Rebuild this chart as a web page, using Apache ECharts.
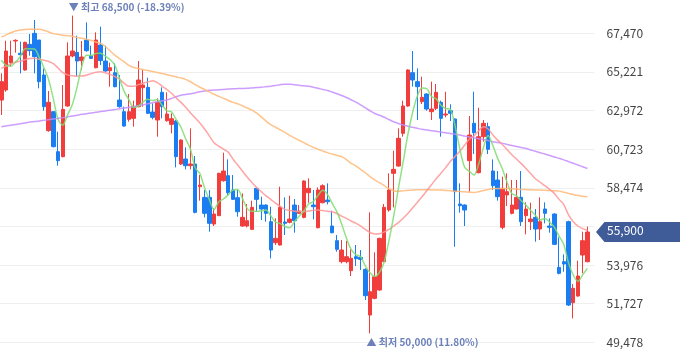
<!DOCTYPE html>
<html><head><meta charset="utf-8">
<script src="https://cdn.jsdelivr.net/npm/echarts@6/dist/echarts.min.js"></script>
<style>html,body{margin:0;padding:0;background:#fff}#c{width:680px;height:358px}</style>
</head><body><div id="c"></div>
<script>
// ---- data ----
const opens=[63585,64168,65759,67021,66303,65332,66827,67467,67079,65041,61800,62906,60577,60286,63236,66147,66361,65876,67079,66167,65468,66788,65856,65293,65177,63585,62906,62460,62518,63197,64303,64323,62886,62421,64032,62382,62168,62363,59859,60150,59762,59859,58539,57918,57918,56365,56850,58888,59179,58345,57898,56249,56249,56055,58442,57471,57471,56501,55278,55142,56482,56462,57471,56986,56753,58189,57471,56152,57607,57763,56249,55395,54172,54172,53647,54463,54424,53725,51066,52037,52522,54172,57180,59315,59742,61644,63236,65177,64653,63488,63935,62906,63100,63450,62712,62964,62479,57530,57471,60053,62227,59354,61450,62033,59451,58927,56171,58054,56986,57238,57918,56850,56501,56753,56074,57238,56249,56947,53841,54172,56501,51784,52173,54560,54172];
const closes=[64653,66439,66147,67060,66225,66943,66458,66109,64653,63197,63450,60868,60053,63042,66147,66439,65856,66089,66458,66012,67079,65876,65274,65468,64362,63197,62071,62906,63197,64750,64459,62809,62576,63450,63197,62770,62498,60286,61256,59762,59859,57044,58636,56986,56404,56947,59315,59451,58189,57801,57083,56753,56559,57335,57801,57238,56986,54851,55530,57335,56404,56656,56559,57122,58869,58442,57374,58345,58597,57665,55860,54890,54851,54463,54366,54346,54307,52192,52425,53298,55530,57335,58345,59548,61353,63236,65332,64750,64362,63741,63061,63061,64032,62518,62770,62809,58248,57432,57180,61547,61683,61450,62227,60713,58597,57956,58442,58248,57471,57918,56501,57238,56656,56074,56501,56986,56171,55181,53492,54036,51648,52619,53337,55395,55900];
const lows=[62712,64071,65526,66342,65138,65293,66167,65138,64265,62964,61741,60829,59762,60247,63197,66070,64944,65332,66400,65973,65429,65623,65235,64362,64323,63139,62033,62324,62033,63158,63197,62770,62460,61450,62518,62324,61644,59665,59800,59548,59548,56986,57724,56753,55919,56249,56830,58830,58054,57763,56792,56210,56171,56016,57083,56598,56501,54366,55142,55122,55724,56404,55860,56947,56695,57607,56637,56113,57568,57510,55821,54754,54075,54075,53337,53919,53686,51940,50000,51978,52483,54133,57083,57335,59703,61450,63197,64362,62421,63353,62964,62421,63003,61450,62576,62363,55045,57025,56249,58248,60441,59315,61159,60441,58345,57724,56055,57413,56927,57219,56249,55763,56016,55336,55433,56404,55860,55142,53434,53589,51590,50872,52134,53492,54133];
const highs=[65138,67040,67040,67118,66982,66982,67429,68244,67079,65429,64109,62906,61741,64459,66943,68500,67331,67021,68108,66749,67526,67856,66749,65759,65720,65041,63197,63935,63547,65856,65332,64886,63391,63682,64323,64032,62809,62421,61295,60829,61936,60325,59218,58345,58345,57277,59354,60519,60130,59218,58345,58151,57530,57724,58481,57956,57510,57374,56695,58539,57918,58015,57821,57471,58908,59024,58345,58500,58675,58733,57141,55724,55433,55375,54890,55142,54851,53783,57044,54715,55569,57530,59315,60635,61936,63547,65371,66439,65429,64944,63974,64653,64517,63547,64071,63333,62518,58733,57510,62654,64071,63139,62421,62266,60130,59451,59121,59315,58927,58927,59451,57627,57607,57238,57918,57627,56695,56986,55589,54599,56559,52871,54230,55919,56210];
const ma5=[65900,65600,65550,65800,66105,66563,66567,66559,66078,65472,64773,63655,62444,62122,62712,63310,64307,65515,66198,66171,66299,66303,66140,65942,65612,64835,64074,63601,63147,63224,63477,63624,63558,63609,63298,62960,62898,62440,62001,61314,60732,59641,59311,58457,57786,57203,57658,57821,58061,58341,58368,57855,57277,57106,57106,57137,57184,56842,56481,56388,56221,56155,56497,56815,57122,57530,57673,58030,58325,58085,57568,57071,56373,55546,54886,54583,54467,53935,53527,53314,53550,54156,55387,56811,58422,59963,61563,62844,63807,64284,64249,63795,63651,63283,63088,63038,62075,60755,59688,59443,59218,59858,60817,61524,60934,60189,59587,58791,58143,58007,57716,57475,57157,56877,56594,56691,56478,56183,55666,55173,54106,53395,53026,53407,53780];
const ma20=[65430,65550,65680,65780,65850,65930,66000,66010,65960,65900,65830,65700,65450,65180,65050,65000,64980,64990,65030,65120,65200,65230,65170,65090,64950,64800,64550,64380,64380,64480,64560,64640,64700,64600,64400,64200,63980,63700,63450,63170,62850,62550,62250,61900,61500,61100,60900,60720,60550,60150,59800,59450,59100,58780,58500,58250,58000,57800,57580,57400,57220,57150,57110,57090,57090,57120,57160,57180,57150,57110,57080,56980,56820,56690,56540,56420,56250,56050,55870,55790,55800,55900,56050,56250,56450,56700,56980,57300,57620,57950,58300,58650,59000,59320,59650,60000,60300,60600,60950,61300,61500,61800,62030,61900,61550,61250,61000,60700,60400,60150,59880,59600,59300,59000,58800,58600,58380,58150,57800,57500,56900,56500,56250,56100,56000];
const ma60=[67250,67380,67500,67600,67660,67690,67700,67700,67700,67650,67550,67450,67400,67360,67330,67300,67230,67180,67120,67050,66960,66880,66700,66450,66200,66000,65800,65600,65480,65420,65360,65300,65250,65190,65130,65060,65000,64930,64870,64790,64650,64480,64330,64200,64060,63920,63800,63680,63560,63450,63370,63250,63120,63000,62820,62600,62360,62150,62000,61850,61700,61530,61380,61240,61100,60960,60830,60720,60620,60520,60440,60360,60290,60120,59900,59750,59550,59350,59130,58930,58770,58600,58430,58300,58270,58300,58330,58350,58360,58360,58360,58350,58350,58340,58320,58300,58280,58260,58240,58220,58200,58250,58320,58380,58420,58440,58440,58430,58420,58400,58380,58370,58360,58350,58340,58330,58310,58300,58280,58220,58150,58080,58020,57980,57950];
const ma120=[62030,62070,62120,62160,62200,62250,62300,62330,62360,62400,62440,62480,62520,62560,62600,62650,62700,62750,62790,62830,62870,62910,62950,62990,63030,63080,63120,63160,63200,63260,63310,63370,63430,63490,63540,63590,63680,63780,63860,63900,63950,64000,64070,64110,64150,64170,64180,64200,64220,64240,64250,64260,64270,64290,64310,64330,64360,64390,64430,64480,64510,64510,64480,64440,64410,64380,64330,64270,64200,64140,64050,63950,63850,63730,63600,63460,63300,63130,62960,62800,62700,62580,62450,62320,62220,62140,62060,62000,61940,61880,61840,61800,61760,61720,61680,61640,61590,61550,61490,61430,61380,61330,61280,61220,61160,61110,61060,61000,60940,60880,60820,60760,60680,60600,60520,60440,60360,60270,60190,60100,60000,59900,59800,59700,59600];
const yTicks=[49478,51727,53976,56225,58474,60723,62972,65221,67470];
const lastPrice=55900;
const highMark={index:15,value:68500,text:'▼ 최고 68,500 (-18.39%)'};
const lowMark={index:78,value:50000,text:'▲ 최저 50,000 (11.80%)'};
const emptySlots=1;

// ---- build ----
const n=closes.length;
const categories=[];for(let i=0;i<n+emptySlots;i++)categories.push(String(i+1));
const candleData=closes.map((c,i)=>[opens[i],c,lows[i],highs[i]]);
const step=yTicks[1]-yTicks[0];
const yMin=yTicks[0]-step, yMax=yTicks[yTicks.length-1]+step;
const FONT='"Noto Sans CJK KR", "Noto Sans", sans-serif';
const UP='#f23d3d', DOWN='#1a7ef2';
function line(name,data,color){return {name,type:'line',data,showSymbol:false,symbol:'none',smooth:0.3,
  lineStyle:{color,width:1.5,opacity:0.85},itemStyle:{color},z:3,silent:true};}
const chart=echarts.init(document.getElementById('c'),null,{renderer:'canvas'});
chart.setOption({
  animation:false,
  grid:{left:-1,right:85.5,top:-5.33,bottom:-22.93,containLabel:false,outerBoundsMode:'none'},
  xAxis:{type:'category',data:categories,boundaryGap:true,axisLine:{show:false},axisTick:{show:false},axisLabel:{show:false},splitLine:{show:false}},
  yAxis:{type:'value',position:'right',min:yMin,max:yMax,interval:step,
    axisLine:{show:false},axisTick:{show:false},
    splitLine:{show:true,lineStyle:{color:'#efefef',width:1}},
    axisLabel:{margin:12,color:'#444',fontSize:12,fontFamily:FONT,
      formatter:v=>(v<=yMin||v>=yMax)?'':v.toLocaleString('en-US')}},
  series:[
    {type:'candlestick',data:candleData,barWidth:4,z:2,
      itemStyle:{color:UP,color0:DOWN,borderColor:UP,borderColor0:DOWN,borderWidth:1}},
    line('MA120',ma120,'#c48cff'),
    line('MA60',ma60,'#ffb877'),
    line('MA20',ma20,'#ff9494'),
    line('MA5',ma5,'#7fdc72')
  ]
});
function addGraphics(){
  const hp=chart.convertToPixel({gridIndex:0},[highMark.index,highMark.value]);
  const lp=chart.convertToPixel({gridIndex:0},[lowMark.index,lowMark.value]);
  const cp=chart.convertToPixel({gridIndex:0},[0,lastPrice]);
  const gridRight=680-85.5;
  const cy=Math.round(cp[1]);
  chart.setOption({graphic:[
    {type:'text',left:hp[0]-3.5,top:hp[1]-13,style:{text:highMark.text,fill:'#6c80ba',font:'bold 10px '+FONT},z:10},
    {type:'text',left:lp[0]-3.5,top:lp[1]+4,style:{text:lowMark.text,fill:'#6c80ba',font:'bold 10px '+FONT},z:10},
    {type:'polygon',shape:{points:[[gridRight+1.5,cy],[gridRight+10,cy-10],[680,cy-10],[680,cy+10],[gridRight+10,cy+10]]},style:{fill:'#3f5b98'},z:10},
    {type:'text',left:gridRight+12.5,top:cy-8,style:{text:lastPrice.toLocaleString('en-US'),fill:'#fff',font:'12px '+FONT},z:11}
  ]});
}
addGraphics();
</script></body></html>
